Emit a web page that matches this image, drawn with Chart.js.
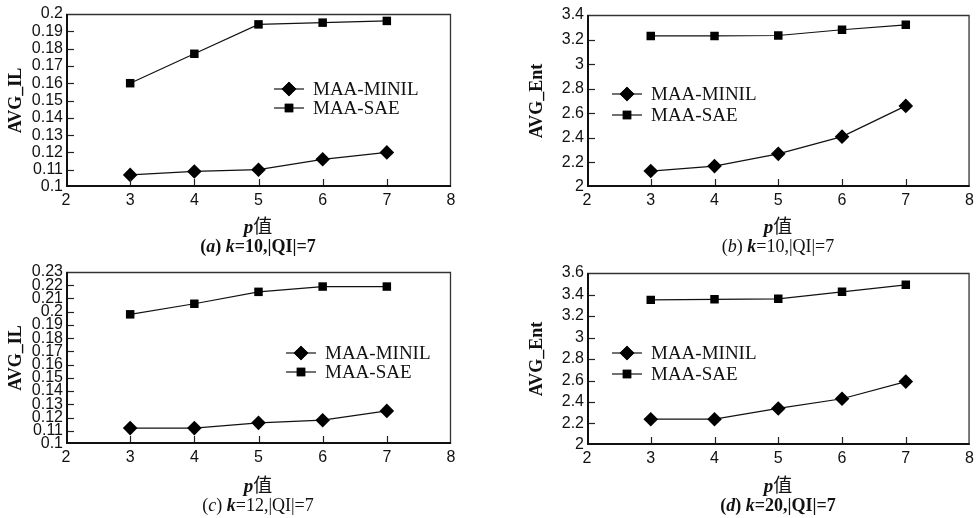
<!DOCTYPE html>
<html>
<head>
<meta charset="utf-8">
<script src="https://cdn.jsdelivr.net/npm/chart.js@4/dist/chart.umd.min.js"></script>
<style>
  body { margin: 0; background: #fff; }
  #wrap { position: relative; width: 978px; height: 518px; overflow: hidden; }
  .panel { position: absolute; width: 489px; height: 259px; }
  .lbl { position: absolute; font-family: "Liberation Serif", "Noto Sans CJK SC", serif; color: #111; white-space: nowrap; transform: translateX(-50%); }
  .ptitle { font-size: 19px; }
  .cap { font-size: 18px; }
</style>
</head>
<body>
<div id="wrap">
  <div class="panel" style="left:0;top:0"><canvas id="chart-a"></canvas></div>
  <div class="panel" style="left:489px;top:0"><canvas id="chart-b"></canvas></div>
  <div class="panel" style="left:0;top:259px"><canvas id="chart-c"></canvas></div>
  <div class="panel" style="left:489px;top:259px"><canvas id="chart-d"></canvas></div>

  <div class="lbl ptitle" style="left:258px;top:211px"><b><i>p</i></b>值</div>
  <div class="lbl cap" style="left:258px;top:236px"><b>(<i>a</i>) <i>k</i>=10,|QI|=7</b></div>
  <div class="lbl ptitle" style="left:778px;top:211px"><b><i>p</i></b>值</div>
  <div class="lbl cap" style="left:778px;top:236px">(<i>b</i>) <b><i>k</i></b>=10,|QI|=7</div>
  <div class="lbl ptitle" style="left:258px;top:470px"><b><i>p</i></b>值</div>
  <div class="lbl cap" style="left:258px;top:495px">(<i>c</i>) <b><i>k</i></b>=12,|QI|=7</div>
  <div class="lbl ptitle" style="left:778px;top:470px"><b><i>p</i></b>值</div>
  <div class="lbl cap" style="left:778px;top:495px"><b>(<i>d</i>) <i>k</i>=20,|QI|=7</b></div>
</div>

<script>
// p values on the x axis
const pValues = [3, 4, 5, 6, 7];

// (a) k=10, AVG_IL
const minilA = [0.107, 0.109, 0.110, 0.116, 0.120];
const saeA   = [0.160, 0.177, 0.194, 0.195, 0.196];

// (b) k=10, AVG_Ent
const minilB = [2.13, 2.17, 2.27, 2.41, 2.66];
const saeB   = [3.23, 3.23, 3.233, 3.28, 3.32];

// (c) k=12, AVG_IL
const minilC = [0.112, 0.112, 0.116, 0.118, 0.125];
const saeC   = [0.198, 0.206, 0.215, 0.219, 0.219];

// (d) k=20, AVG_Ent
const minilD = [2.24, 2.24, 2.34, 2.43, 2.59];
const saeD   = [3.35, 3.355, 3.36, 3.425, 3.49];

const seriesNames = ["MAA-MINIL", "MAA-SAE"];

function toPoints(vals) {
	return pValues.map((p, i) => ({ x: p, y: vals[i] }));
}

// inward tick marks + frame
const frameTicks = {
	id: 'frameTicks',
	afterDatasetsDraw(chart) {
		const ctx = chart.ctx;
		const a = chart.chartArea;
		const xs = chart.scales.x, ys = chart.scales.y;
		ctx.save();
		ctx.strokeStyle = '#222';
		ctx.lineWidth = 1.2;
		xs.ticks.forEach(t => {
			if (t.value <= xs.min || t.value >= xs.max) return;
			const px = Math.round(xs.getPixelForValue(t.value)) + 0.5;
			ctx.beginPath(); ctx.moveTo(px, a.bottom); ctx.lineTo(px, a.bottom - 8); ctx.stroke();
		});
		ys.ticks.forEach(t => {
			if (t.value <= ys.min + 1e-9 || t.value >= ys.max - 1e-9) return;
			const py = Math.round(ys.getPixelForValue(t.value)) + 0.5;
			ctx.beginPath(); ctx.moveTo(a.left, py); ctx.lineTo(a.left + 8, py); ctx.stroke();
		});
		ctx.lineWidth = 1.3;
		ctx.strokeStyle = '#333';
		ctx.beginPath(); ctx.moveTo(a.left, a.top + 0.5); ctx.lineTo(a.right - 0.5, a.top + 0.5); ctx.lineTo(a.right - 0.5, a.bottom); ctx.stroke();
		ctx.lineWidth = 2;
		ctx.strokeStyle = '#111';
		ctx.beginPath(); ctx.moveTo(a.left + 1, a.top); ctx.lineTo(a.left + 1, a.bottom - 1); ctx.lineTo(a.right, a.bottom - 1); ctx.stroke();
		ctx.restore();
	}
};

// legend drawn inside the plot
const innerLegend = {
	id: 'innerLegend',
	afterDraw(chart, args, opts) {
		const ctx = chart.ctx;
		const a = chart.chartArea;
		ctx.save();
		ctx.font = '19px "Liberation Serif"';
		ctx.textBaseline = 'middle';
		chart.data.datasets.forEach((ds, i) => {
			const x0 = a.left + opts.dx;
			const y0 = a.top + opts.dy + i * opts.gap;
			ctx.strokeStyle = '#111';
			ctx.lineWidth = 1.2;
			ctx.beginPath(); ctx.moveTo(x0, y0); ctx.lineTo(x0 + 30, y0); ctx.stroke();
			Chart.helpers.drawPoint(ctx, {
				pointStyle: ds.pointStyle, radius: ds.pointRadius, rotation: 0, borderWidth: 0
			}, x0 + 15, y0);
			ctx.fillStyle = '#000';
			ctx.fill();
			ctx.fillStyle = '#111';
			ctx.fillText(ds.label, x0 + 39, y0 + 1);
		});
		ctx.restore();
	}
};

function makeChart(id, minil, sae, yMin, yMax, step, yTitle, pad, legendPos) {
	return new Chart(id, {
		type: 'line',
		data: {
			datasets: [{
				label: seriesNames[0],
				data: toPoints(minil),
				borderColor: '#111',
				backgroundColor: '#000',
				borderWidth: 1.2,
				pointStyle: 'rectRot',
				pointRadius: 7.3,
				pointBorderWidth: 0
			}, {
				label: seriesNames[1],
				data: toPoints(sae),
				borderColor: '#111',
				backgroundColor: '#000',
				borderWidth: 1.2,
				pointStyle: 'rect',
				pointRadius: 6,
				pointBorderWidth: 0
			}]
		},
		options: {
			responsive: false,
			animation: false,
			devicePixelRatio: 1,
			layout: { padding: pad },
			plugins: {
				legend: { display: false },
				tooltip: { enabled: false },
				innerLegend: legendPos
			},
			scales: {
				x: {
					type: 'linear',
					min: 2,
					max: 8,
					grid: { display: false, drawTicks: false },
					border: { display: false },
					ticks: {
						stepSize: 1,
						padding: 4,
						color: '#111',
						font: { family: '"Liberation Sans", Arial', size: 16 }
					},
					afterFit(scale) { scale.height = 25; }
				},
				y: {
					min: yMin,
					max: yMax,
					grid: { display: false, drawTicks: false },
					border: { display: false },
					ticks: {
						stepSize: step,
						autoSkip: false,
						padding: 3,
						color: '#111',
						font: { family: '"Liberation Sans", Arial', size: 16 },
						callback: v => String(+v.toFixed(3))
					},
					title: {
						display: true,
						text: yTitle,
						color: '#111',
						padding: { top: 6, bottom: 0 },
						font: { family: '"Liberation Serif"', size: 18, weight: 'bold' }
					},
					afterFit(scale) { scale.width = 66; }
				}
			}
		},
		plugins: [frameTicks, innerLegend]
	});
}

function sizeCanvas(id) {
	const c = document.getElementById(id);
	c.width = 489; c.height = 259;
	c.style.width = '489px'; c.style.height = '259px';
}
['chart-a', 'chart-b', 'chart-c', 'chart-d'].forEach(sizeCanvas);

makeChart('chart-a', minilA, saeA, 0.1, 0.2, 0.01, 'AVG_IL',
	{ left: 0, right: 38, top: 14, bottom: 47 }, { dx: 208, dy: 75, gap: 19 });
makeChart('chart-b', minilB, saeB, 2, 3.4, 0.2, 'AVG_Ent',
	{ left: 32, right: 7, top: 15, bottom: 47 }, { dx: 25, dy: 79, gap: 21 });
makeChart('chart-c', minilC, saeC, 0.1, 0.23, 0.01, 'AVG_IL',
	{ left: 0, right: 38, top: 13, bottom: 49 }, { dx: 220, dy: 81, gap: 19 });
makeChart('chart-d', minilD, saeD, 2, 3.6, 0.2, 'AVG_Ent',
	{ left: 32, right: 7, top: 14, bottom: 48 }, { dx: 25, dy: 80, gap: 21 });
</script>
</body>
</html>
